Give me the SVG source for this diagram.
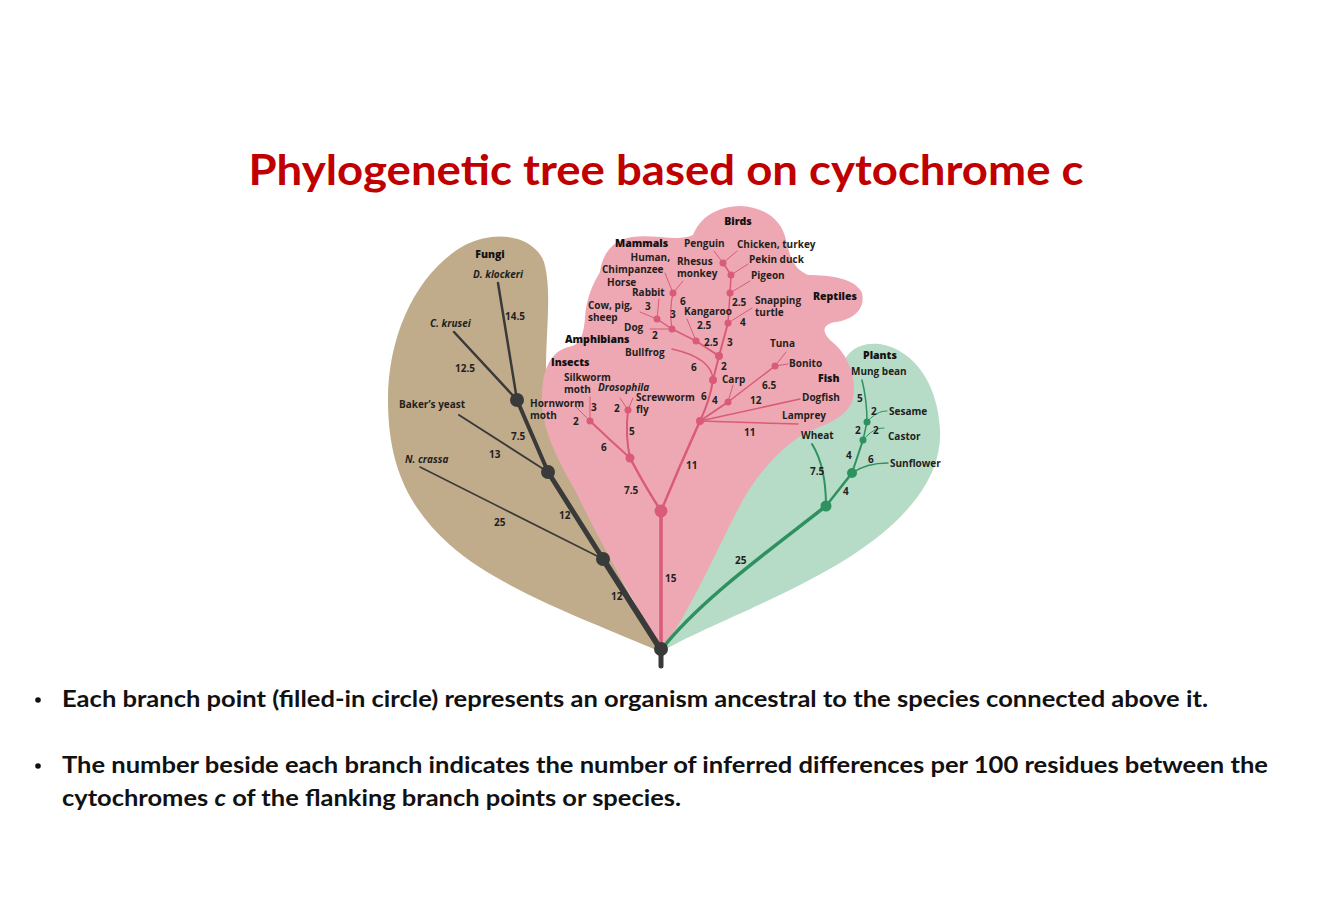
<svg xmlns="http://www.w3.org/2000/svg" width="1334" height="899" viewBox="0 0 1334 899">
<style>
.lb{font-family:"Open Sans","Liberation Sans",sans-serif;font-weight:700;font-size:10px;fill:#231F20}
.gp{font-family:"Open Sans","Liberation Sans",sans-serif;font-weight:800;font-size:10.5px;fill:#111}
.it{font-style:italic}
.nm{font-family:"Open Sans","Liberation Sans",sans-serif;font-weight:700;font-size:10px;fill:#231F20}
.fg{stroke:#3A3A3A;fill:none;stroke-linecap:round}
.fgn{fill:#3A3A3A}
.pk{stroke:#D95B78;fill:none;stroke-linecap:round}
.pkn{fill:#D95B78}
.gr{stroke:#2E9160;fill:none;stroke-linecap:round}
.grn{fill:#2E9160}
.body{font-family:Lato,"Open Sans",sans-serif;font-weight:700;font-size:23px;fill:#111}
</style>
<rect width="1334" height="899" fill="#fff"/>
<text x="666" y="185" text-anchor="middle" font-family="Lato,'Open Sans',sans-serif" font-weight="700" font-size="42" fill="#C00000" textLength="835" lengthAdjust="spacingAndGlyphs">Phylogenetic tree based on cytochrome c</text>

<g id="regions">
<path id="fungi-region" d="M661,652 C600,625 500,590 450,545 C405,505 388,460 388,400 C388,330 420,270 465,245 C500,228 535,238 544,262 C552,290 546,330 546,370 C546,440 610,560 661,652 Z" fill="#C0AC8B"/>
<path id="plants-region" d="M661,652 C700,628 800,592 860,550 C915,512 942,472 940,430 C938,385 915,350 880,344 C860,342 848,350 842,365 C815,385 715,480 661,652 Z" fill="#B6DBC6"/>
<path id="animal-region" d="M661,652 C640,610 598,540 575,490 C555,455 540,425 542,392 C544,365 552,350 572,346 C582,343 584,330 585,318 C586,300 592,285 600,272 C602,255 612,240 632,237 C655,234 678,242 693,235 C700,218 715,207 740,206 C765,207 782,220 786,240 C790,255 792,268 808,275 C830,275 855,278 862,293 C866,310 852,320 835,322 C825,324 820,330 830,340 C850,355 858,382 852,402 C845,418 825,425 805,433 C775,452 752,480 735,515 C712,560 690,610 661,652 Z" fill="#EEA8B3"/>
</g>

<g id="connectors">
<line class="fg" x1="661" y1="650" x2="661" y2="666" stroke-width="5"/>
<line class="fg" x1="661" y1="650" x2="603" y2="559" stroke-width="6"/>
<line class="fg" x1="603" y1="559" x2="548" y2="472" stroke-width="5"/>
<line class="fg" x1="548" y1="472" x2="517" y2="400" stroke-width="4"/>
<line class="fg" x1="517" y1="400" x2="498" y2="283" stroke-width="2.5"/>
<line class="fg" x1="517" y1="400" x2="454" y2="332" stroke-width="2.5"/>
<line class="fg" x1="548" y1="472" x2="459" y2="415" stroke-width="2"/>
<line class="fg" x1="603" y1="559" x2="420" y2="467" stroke-width="1.6"/>
<line class="pk" x1="661" y1="650" x2="661" y2="511" stroke-width="3.5"/>
<path class="pk" d="M661,511 Q646,488 630,458" stroke-width="2.5"/>
<path class="pk" d="M661,511 Q680,465 700,421" stroke-width="2.5"/>
<path class="pk" d="M630,458 Q610,440 590,421" stroke-width="2"/>
<path class="pk" d="M630,458 Q625,435 628,410" stroke-width="2"/>
<line class="pk" x1="590" y1="421" x2="576" y2="407" stroke-width="1"/>
<line class="pk" x1="590" y1="421" x2="590" y2="397" stroke-width="1"/>
<line class="pk" x1="628" y1="410" x2="620" y2="398" stroke-width="1"/>
<line class="pk" x1="628" y1="410" x2="633" y2="398" stroke-width="1"/>
<line class="pk" x1="700" y1="421" x2="798" y2="424" stroke-width="1.5"/>
<line class="pk" x1="700" y1="421" x2="800" y2="399" stroke-width="1.5"/>
<line class="pk" x1="700" y1="421" x2="728" y2="402" stroke-width="2"/>
<line class="pk" x1="728" y1="402" x2="733" y2="385" stroke-width="1"/>
<line class="pk" x1="728" y1="402" x2="775" y2="366" stroke-width="1.5"/>
<line class="pk" x1="775" y1="366" x2="786" y2="352" stroke-width="1"/>
<line class="pk" x1="775" y1="366" x2="788" y2="364" stroke-width="1"/>
<path class="pk" d="M700,421 Q710,400 713,380" stroke-width="2"/>
<path class="pk" d="M713,380 Q712,358 672,349" stroke-width="1.5"/>
<line class="pk" x1="713" y1="380" x2="719" y2="356" stroke-width="2"/>
<line class="pk" x1="719" y1="356" x2="728" y2="323" stroke-width="2"/>
<line class="pk" x1="728" y1="323" x2="752" y2="308" stroke-width="1"/>
<line class="pk" x1="728" y1="323" x2="730" y2="293" stroke-width="1.5"/>
<line class="pk" x1="730" y1="293" x2="750" y2="281" stroke-width="1"/>
<line class="pk" x1="730" y1="293" x2="731" y2="275" stroke-width="1.5"/>
<line class="pk" x1="731" y1="275" x2="748" y2="264" stroke-width="1"/>
<line class="pk" x1="731" y1="275" x2="723" y2="263" stroke-width="1.5"/>
<line class="pk" x1="723" y1="263" x2="714" y2="251" stroke-width="1"/>
<line class="pk" x1="723" y1="263" x2="737" y2="251" stroke-width="1"/>
<line class="pk" x1="719" y1="356" x2="696" y2="341" stroke-width="2"/>
<line class="pk" x1="696" y1="341" x2="687" y2="319" stroke-width="1"/>
<line class="pk" x1="696" y1="341" x2="672" y2="329" stroke-width="1.5"/>
<line class="pk" x1="672" y1="329" x2="657" y2="319" stroke-width="1.5"/>
<line class="pk" x1="657" y1="319" x2="640" y2="312" stroke-width="1"/>
<line class="pk" x1="657" y1="319" x2="659" y2="299" stroke-width="1"/>
<line class="pk" x1="672" y1="329" x2="650" y2="329" stroke-width="1"/>
<path class="pk" d="M672,329 Q669,310 673,293" stroke-width="1.2"/>
<line class="pk" x1="673" y1="293" x2="665" y2="273" stroke-width="1"/>
<line class="pk" x1="673" y1="293" x2="683" y2="281" stroke-width="1"/>
<path class="gr" d="M661,650 C700,600 770,550 826,506" stroke-width="3.5"/>
<path class="gr" d="M826,506 C826,480 822,460 812,444" stroke-width="2"/>
<line class="gr" x1="826" y1="506" x2="852" y2="473" stroke-width="2.5"/>
<path class="gr" d="M852,473 C862,466 875,463 888,463" stroke-width="1.3"/>
<line class="gr" x1="852" y1="473" x2="863" y2="440" stroke-width="2"/>
<path class="gr" d="M863,440 C870,432 876,428 884,428" stroke-width="1"/>
<line class="gr" x1="863" y1="440" x2="867" y2="422" stroke-width="1.5"/>
<path class="gr" d="M867,422 C874,414 880,411 887,411" stroke-width="1"/>
<path class="gr" d="M867,422 C867,405 865,392 862,380" stroke-width="1.5"/>
</g>

<g id="nodes">
<g id="root"><circle class="fgn" cx="661" cy="649" r="7"/></g>
<g id="fungi-nodes"><circle class="fgn" cx="603" cy="559" r="7"/><circle class="fgn" cx="548" cy="472" r="7"/><circle class="fgn" cx="517" cy="400" r="7"/></g>
<g id="animal-nodes">
<circle class="pkn" cx="661" cy="511" r="6.5"/><circle class="pkn" cx="630" cy="458" r="4.5"/>
<circle class="pkn" cx="590" cy="421" r="3.5"/><circle class="pkn" cx="628" cy="410" r="3.5"/>
<circle class="pkn" cx="700" cy="421" r="4"/><circle class="pkn" cx="728" cy="402" r="3.5"/>
<circle class="pkn" cx="775" cy="366" r="3.5"/><circle class="pkn" cx="713" cy="380" r="4"/>
<circle class="pkn" cx="719" cy="356" r="4"/><circle class="pkn" cx="728" cy="323" r="3.5"/>
<circle class="pkn" cx="730" cy="293" r="3.5"/><circle class="pkn" cx="731" cy="275" r="3.5"/>
<circle class="pkn" cx="723" cy="263" r="3.5"/><circle class="pkn" cx="696" cy="341" r="3.5"/>
<circle class="pkn" cx="672" cy="329" r="3.5"/><circle class="pkn" cx="657" cy="319" r="3.5"/>
<circle class="pkn" cx="673" cy="293" r="3.5"/>
</g>
<g id="plant-nodes">
<circle class="grn" cx="826" cy="506" r="5.5"/><circle class="grn" cx="852" cy="473" r="5"/>
<circle class="grn" cx="863" cy="440" r="3.5"/><circle class="grn" cx="867" cy="422" r="3.5"/>
</g>
</g>

<g id="labels">
<text class="gp" x="490" y="258" text-anchor="middle">Fungi</text>
<text class="lb it" x="498" y="278" text-anchor="middle">D. klockeri</text>
<text class="lb it" x="430" y="327">C. krusei</text>
<text class="lb" x="399" y="408">Baker’s yeast</text>
<text class="lb it" x="405" y="463">N. crassa</text>
<text class="lb" x="530" y="407">Hornworm</text>
<text class="lb" x="530" y="419">moth</text>
<text class="gp" x="551" y="366">Insects</text>
<text class="lb" x="564" y="381">Silkworm</text>
<text class="lb" x="564" y="393">moth</text>
<text class="lb it" x="598" y="391">Drosophila</text>
<text class="lb" x="636" y="401">Screwworm</text>
<text class="lb" x="636" y="413">fly</text>
<text class="gp" x="565" y="343">Amphibians</text>
<text class="lb" x="625" y="356">Bullfrog</text>
<text class="gp" x="615" y="247">Mammals</text>
<text class="lb" x="670" y="261" text-anchor="end">Human,</text>
<text class="lb" x="602" y="273">Chimpanzee</text>
<text class="lb" x="684" y="247">Penguin</text>
<text class="lb" x="677" y="265">Rhesus</text>
<text class="lb" x="677" y="277">monkey</text>
<text class="lb" x="607" y="286">Horse</text>
<text class="lb" x="632" y="296">Rabbit</text>
<text class="lb" x="588" y="309">Cow, pig,</text>
<text class="lb" x="588" y="321">sheep</text>
<text class="lb" x="624" y="331">Dog</text>
<text class="gp" x="738" y="225" text-anchor="middle">Birds</text>
<text class="lb" x="737" y="248">Chicken, turkey</text>
<text class="lb" x="749" y="263">Pekin duck</text>
<text class="lb" x="751" y="279">Pigeon</text>
<text class="lb" x="684" y="315">Kangaroo</text>
<text class="lb" x="755" y="304">Snapping</text>
<text class="lb" x="755" y="316">turtle</text>
<text class="gp" x="813" y="300">Reptiles</text>
<text class="lb" x="770" y="347">Tuna</text>
<text class="lb" x="789" y="367">Bonito</text>
<text class="gp" x="818" y="382">Fish</text>
<text class="lb" x="722" y="383">Carp</text>
<text class="lb" x="802" y="401">Dogfish</text>
<text class="lb" x="782" y="419">Lamprey</text>
<text class="lb" x="801" y="439">Wheat</text>
<text class="gp" x="863" y="359">Plants</text>
<text class="lb" x="851" y="375">Mung bean</text>
<text class="lb" x="889" y="415">Sesame</text>
<text class="lb" x="888" y="440">Castor</text>
<text class="lb" x="890" y="467">Sunflower</text>
</g>

<g id="branch-numbers" class="nm">
<text class="nm" x="505" y="320">14.5</text>
<text class="nm" x="455" y="372">12.5</text>
<text class="nm" x="511" y="440">7.5</text>
<text class="nm" x="489" y="458">13</text>
<text class="nm" x="559" y="519">12</text>
<text class="nm" x="494" y="526">25</text>
<text class="nm" x="611" y="600">12</text>
<text class="nm" x="665" y="582">15</text>
<text class="nm" x="624" y="494">7.5</text>
<text class="nm" x="686" y="469">11</text>
<text class="nm" x="601" y="451">6</text>
<text class="nm" x="629" y="435">5</text>
<text class="nm" x="573" y="425">2</text>
<text class="nm" x="591" y="411">3</text>
<text class="nm" x="614" y="412">2</text>
<text class="nm" x="744" y="436">11</text>
<text class="nm" x="750" y="404">12</text>
<text class="nm" x="712" y="404">4</text>
<text class="nm" x="701" y="400">6</text>
<text class="nm" x="762" y="389">6.5</text>
<text class="nm" x="721" y="370">2</text>
<text class="nm" x="691" y="371">6</text>
<text class="nm" x="727" y="346">3</text>
<text class="nm" x="704" y="346">2.5</text>
<text class="nm" x="697" y="329">2.5</text>
<text class="nm" x="740" y="326">4</text>
<text class="nm" x="732" y="306">2.5</text>
<text class="nm" x="680" y="305">6</text>
<text class="nm" x="670" y="318">3</text>
<text class="nm" x="645" y="310">3</text>
<text class="nm" x="652" y="339">2</text>
<text class="nm" x="735" y="564">25</text>
<text class="nm" x="810" y="475">7.5</text>
<text class="nm" x="843" y="495">4</text>
<text class="nm" x="846" y="459">4</text>
<text class="nm" x="868" y="463">6</text>
<text class="nm" x="855" y="434">2</text>
<text class="nm" x="873" y="434">2</text>
<text class="nm" x="871" y="415">2</text>
<text class="nm" x="857" y="402">5</text>
</g>

<g id="notes">
<circle cx="38" cy="700" r="2.8" fill="#111"/>
<text class="body" x="62" y="707" textLength="1146" lengthAdjust="spacingAndGlyphs">Each branch point (filled-in circle) represents an organism ancestral to the species connected above it.</text>
<circle cx="38" cy="766" r="2.8" fill="#111"/>
<text class="body" x="62" y="773" textLength="1206" lengthAdjust="spacingAndGlyphs">The number beside each branch indicates the number of inferred differences per 100 residues between the</text>
<text class="body" x="62" y="806" textLength="619" lengthAdjust="spacingAndGlyphs">cytochromes <tspan font-style="italic">c</tspan> of the flanking branch points or species.</text>
</g>
</svg>
